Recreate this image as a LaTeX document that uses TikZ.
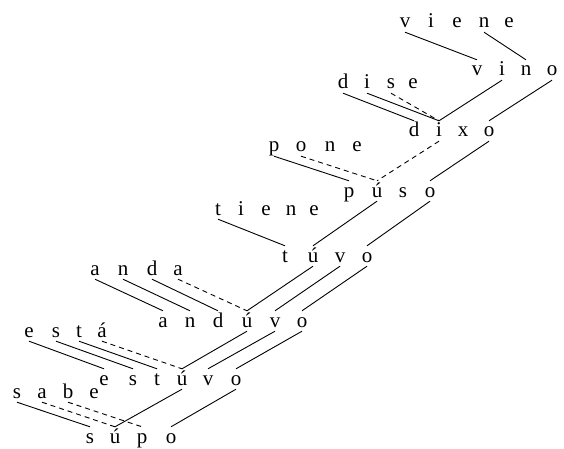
\documentclass[tikz,border=0pt]{standalone}
\usepackage{fontspec}
\setmainfont{Liberation Serif}
\tikzset{
  L/.style={font=\fontsize{21}{21}\selectfont, anchor=base, inner xsep=0pt, inner ysep=4pt, text height=12pt, text depth=0pt},
  ln/.style={line width=0.9pt},
  dl/.style={line width=0.9pt, dash pattern=on 5pt off 4pt},
}
\newcommand\wrd[3]{\foreach \xx/\ll [count=\ii] in {#3} {\node[L] (#1\ii) at (\xx,#2) {\ll};}}
\begin{document}
\begin{tikzpicture}[x=1pt,y=-1pt]
\useasboundingbox (0,0) rectangle (564,449);
\wrd{vi}{28}{405/v,431/i,457/e,484/n,509/e}
\wrd{vn}{76}{477/v,502/i,526/n,552/o}
\wrd{ds}{89}{343/d,367/i,391/s,413/e}
\wrd{dx}{137}{414/d,439/i,463/x,489/o}
\wrd{pn}{152}{274/p,301/o,330/n,357/e}
\wrd{ps}{197}{349/p,377/ú,403/s,430/o}
\wrd{ti}{215}{218/t,241/i,266/e,291/n,314/e}
\wrd{tv}{262}{285/t,313/ú,340/v,367/o}
\wrd{an}{275}{95/a,123/n,152/d,178/a}
\wrd{av}{327}{163/a,190/n,218/d,247/ú,275/v,302/o}
\wrd{es}{337}{29/e,56/s,79/t,102/á}
\wrd{ev}{385}{104/e,133/s,157/t,182/ú,208/v,236/o}
\wrd{sb}{398}{17/s,42/a,68/b,94/e}
\wrd{sp}{443}{90/s,115/ú,142/p,171/o}
\foreach \a/\b in {vi1/vn1,vi4/vn3,vn2/dx2,vn4/dx4,ds1/dx1,ds2/dx2,dx4/ps4,pn1/ps1,ps2/tv2,ps4/tv4,ti1/tv1,tv2/av4,tv3/av5,tv4/av6,an1/av1,an2/av2,an3/av3,av4/ev4,av5/ev5,av6/ev6,es1/ev1,es2/ev2,es3/ev3,ev4/sp2,ev6/sp4,sb1/sp1}
  \draw[ln] (\a.south) -- (\b.north);
\foreach \a/\b in {ds3/dx2,dx2/ps2,pn2/ps2,an4/av4,es4/ev4,sb2/sp2,sb3/sp3}
  \draw[dl] (\a.south) -- (\b.north);
\end{tikzpicture}
\end{document}
